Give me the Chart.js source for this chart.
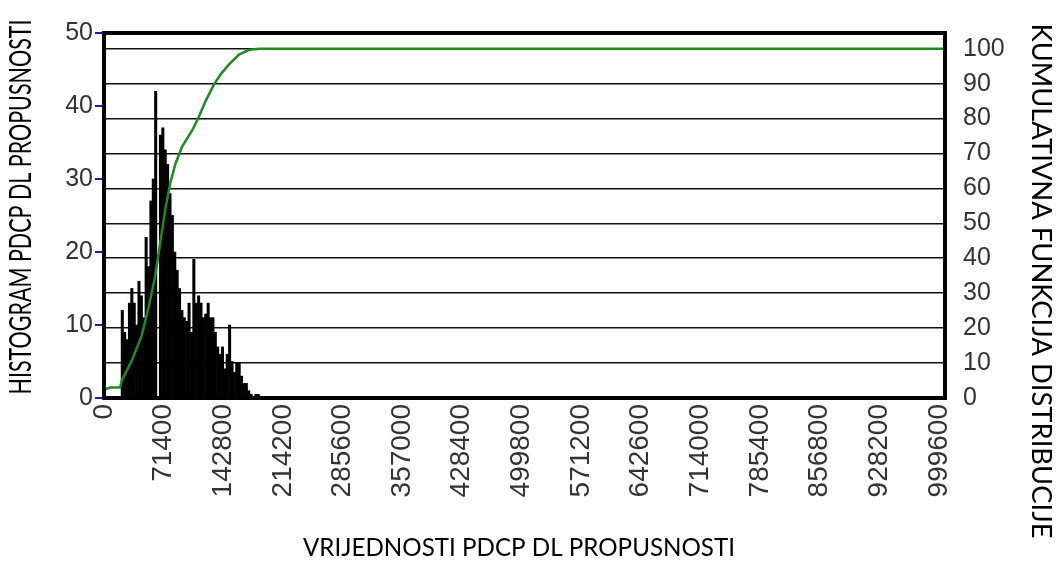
<!DOCTYPE html>
<html>
<head>
    <meta charset="utf-8">
    <script src="https://cdn.jsdelivr.net/npm/chart.js"></script>
    <style>
        html, body { margin: 0; padding: 0; background: #fff; }
        #wrap { width: 1057px; height: 561px; }
    </style>
</head>
<body>
<div id="wrap"><canvas id="histChart"></canvas></div>
<script>
// histogram bins (bin centre = firstBin + i * binWidth)
const firstBin = 21900
const binWidth = 2856
const counts = [12, 9, 8, 13, 15, 13, 10, 16, 14, 11,
                22, 18, 27, 30, 42, 0, 36, 37, 34, 32,
                28, 25, 20, 17.5, 15, 12, 11, 10.5, 13, 9,
                19, 13, 14, 13, 11, 11.5, 13, 11, 11, 9,
                7, 6, 7, 4, 6, 10, 5, 3.5, 4.8, 4.8,
                3, 2, 2, 1, 0.5, 0, 0.5, 0.5]

// cumulative distribution
const cdfX = [0, 7200, 19300, 21300, 33300, 45300, 53400, 61400, 67400, 73400,
              79400, 85500, 93500, 105500, 113600, 121600, 131700, 139700, 149700,
              161700, 173800, 185800, 1007000]
const cdfY = [2.3, 3, 3, 5, 10.7, 18, 26, 35, 44.6, 54,
              61.6, 67, 72, 76.6, 80.5, 85, 89.8, 92.7, 95.5,
              98.3, 99.7, 100, 100]

const xTicks = [0, 71400, 142800, 214200, 285600, 357000, 428400, 499800,
                571200, 642600, 714000, 785400, 856800, 928200, 999600]
const xMax = 1007000
const yTicks = [0, 10, 20, 30, 40, 50]
const y2Ticks = [0, 10, 20, 30, 40, 50, 60, 70, 80, 90, 100]

const xTitle = 'VRIJEDNOSTI PDCP DL PROPUSNOSTI'
const yTitle = 'HISTOGRAM PDCP DL PROPUSNOSTI'
const y2Title = 'KUMULATIVNA FUNKCIJA DISTRIBUCIJE'

const histData = counts.map((c, i) => ({x: firstBin + i * binWidth, y: c}))
const cdfData = cdfX.map((x, i) => ({x: x, y: cdfY[i]}))

// stretched text, the source picture was scaled unevenly
function drawTitle(ctx, text, cx, cy, rot, length, thick) {
    ctx.save()
    ctx.translate(cx, cy)
    ctx.rotate(rot)
    ctx.font = '25px Lato, "Open Sans", sans-serif'
    const w = ctx.measureText(text).width
    ctx.scale(length / w, thick)
    ctx.fillStyle = '#000'
    ctx.textAlign = 'center'
    ctx.textBaseline = 'middle'
    ctx.fillText(text, 0, 0)
    ctx.restore()
}

const frame = {
    id: 'frame',
    afterDatasetsDraw(chart) {
        const a = chart.chartArea
        const ctx = chart.ctx
        ctx.save()
        ctx.strokeStyle = '#000'
        ctx.lineWidth = 4
        ctx.strokeRect(a.left, a.top, a.right - a.left, a.bottom - a.top)
        ctx.restore()
    },
    afterDraw(chart) {
        const ctx = chart.ctx
        drawTitle(ctx, xTitle, 519, 548, 0, 432, 1)
        drawTitle(ctx, yTitle, 21, 207, -Math.PI / 2, 375, 1.2)
        drawTitle(ctx, y2Title, 1040, 281, Math.PI / 2, 515, 1.05)
    }
}

const tickFont = {family: '"Liberation Sans", Arial, sans-serif', size: 25}
const setTicks = list => scale => { scale.ticks = list.map(v => ({value: v})) }

new Chart(document.getElementById('histChart'), {
    type: 'bar',
    data: {
        datasets: [{
            type: 'line',
            label: 'CDF',
            data: cdfData,
            yAxisID: 'y2',
            borderColor: '#1f8a1f',
            borderWidth: 2.5,
            pointRadius: 0,
            tension: 0,
            order: 0
        }, {
            type: 'bar',
            label: 'Histogram',
            data: histData,
            yAxisID: 'y',
            backgroundColor: '#000',
            barPercentage: 1,
            categoryPercentage: 1,
            order: 1
        }]
    },
    options: {
        responsive: true,
        maintainAspectRatio: false,
        animation: false,
        layout: {padding: {top: 28, left: 0, right: 0, bottom: 0}},
        plugins: {legend: {display: false}, tooltip: {enabled: false}},
        scales: {
            x: {
                type: 'linear',
                min: 0,
                max: xMax,
                offset: false,
                grid: {display: false, drawTicks: false},
                border: {display: false},
                afterBuildTicks: setTicks(xTicks),
                ticks: {
                    autoSkip: false,
                    minRotation: 90,
                    maxRotation: 90,
                    padding: 6,
                    color: '#333',
                    font: {family: '"Liberation Sans", Arial, sans-serif', size: 28},
                    callback: v => String(v)
                },
                afterFit(s) { s.height = 163 }
            },
            y: {
                position: 'left',
                min: 0,
                max: 50,
                grid: {drawOnChartArea: false, drawTicks: true, tickLength: 9, color: '#1c1ca8', lineWidth: 2},
                border: {display: false},
                afterBuildTicks: setTicks(yTicks),
                ticks: {padding: 2, color: '#333', font: tickFont},
                afterFit(s) { s.width = 104 }
            },
            y2: {
                position: 'right',
                min: 0,
                max: 104.5,
                grid: {drawOnChartArea: true, drawTicks: false, color: '#111', lineWidth: 1.6},
                border: {display: false},
                afterBuildTicks: setTicks(y2Ticks),
                ticks: {padding: 18, color: '#333', font: tickFont},
                afterFit(s) { s.width = 112 }
            }
        }
    },
    plugins: [frame]
})
</script>
</body>
</html>
